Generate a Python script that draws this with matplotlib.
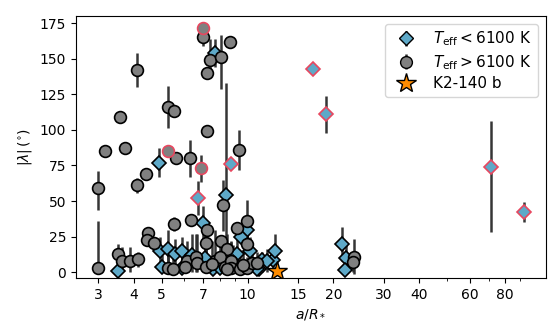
import matplotlib
matplotlib.use("Agg")
import matplotlib.pyplot as plt
import numpy as np
from matplotlib.ticker import FixedLocator, NullFormatter, FixedFormatter

# Hot hosts (T_eff > 6100 K): a/R*, |lambda|, lower err, upper err
hot_aR = [2.98, 2.98, 3.15, 3.58, 3.73, 4.08, 4.08, 4.39, 3.50, 3.64, 3.88, 4.14,
          4.46, 4.43, 4.68, 5.50, 5.24, 5.50, 5.27, 5.63, 6.26, 6.95, 6.95, 8.65,
          7.40, 8.04, 7.22, 7.22, 9.30, 6.85, 8.17, 6.35, 7.22, 9.92, 9.15, 7.17,
          8.04, 8.44, 9.92, 6.15, 6.57, 6.63, 7.17, 7.66, 7.98, 8.31, 8.78, 8.78,
          9.37, 9.92, 10.4, 10.8, 5.24, 5.46, 8.50, 23.6, 23.4, 6.05, 7.50, 9.60]
hot_lam = [59, 3, 85, 109, 87, 142, 61, 69, 13, 8, 8, 9,
           27.5, 22.5, 20.5, 34, 116, 113, 85, 80, 80, 171.5, 165, 162,
           149, 151, 140, 99, 86, 73.5, 47, 37, 30, 36, 31, 20.5,
           22, 16.5, 20, 8, 11, 6.5, 4, 8, 11, 4, 8, 3,
           2, 3, 6.5, 6.5, 3, 2, 2, 11, 7, 4, 6, 5]
hot_elo = [15, 3, 0, 0, 0, 12, 5, 0, 7, 8, 8, 5,
           0, 0, 0, 5, 15, 0, 0, 0, 13, 3, 6, 4,
           12, 22, 0, 0, 14, 10, 18, 0, 0, 14, 0, 14,
           0, 10, 8, 8, 11, 6.5, 4, 8, 11, 4, 8, 3,
           2, 3, 6.5, 6.5, 3, 2, 2, 12, 7, 4, 6, 5]
hot_ehi = [12, 33, 0, 0, 0, 12, 5, 0, 7, 10, 10, 5,
           0, 0, 0, 5, 15, 0, 0, 0, 13, 3, 6, 4,
           15, 16, 0, 0, 14, 9, 18, 0, 0, 15, 0, 14,
           0, 10, 8, 14, 16, 20, 18, 22, 14, 12, 14, 18,
           10, 8, 10, 8, 12, 10, 6, 12, 7, 12, 16, 10]
hot_misaligned = [False] * len(hot_aR)
for i in (18, 21, 29):
    hot_misaligned[i] = True

# Cool hosts (T_eff < 6100 K)
cool_aR = [3.50, 4.91, 7.66, 6.72, 8.78, 8.40, 6.95, 9.92, 9.50, 9.15,
           4.95, 5.24, 5.55, 5.91, 5.00, 5.91, 7.54, 7.98, 11.0, 11.2,
           10.8, 12.3, 12.5, 11.7, 21.5, 22.1, 21.9, 16.9, 18.9, 71.3, 92.9,
           7.10, 8.90, 6.40, 10.2]
cool_lam = [1, 77, 154, 52, 76, 54, 34.5, 30, 25, 13,
            15, 16, 13, 15, 4, 3, 2, 3, 2, 8.5,
            2, 8.5, 15, 8, 20, 10, 1.5, 142.5, 111, 74, 42,
            10, 7, 12, 15]
cool_elo = [1, 10, 10, 12, 0, 54, 12, 0, 0, 13,
            12, 14, 13, 15, 4, 3, 2, 3, 2, 8.5,
            2, 8.5, 7, 8, 12, 10, 1.5, 3, 13, 46, 7,
            10, 7, 12, 15]
cool_ehi = [8, 10, 10, 12, 0, 79, 12, 0, 0, 10,
            10, 14, 10, 10, 8, 10, 6, 8, 4, 6,
            4, 6, 12, 8, 12, 10, 4, 3, 13, 32, 7,
            20, 12, 15, 10]
cool_misaligned = [False] * len(cool_aR)
for i in (3, 4, 27, 28, 29, 30):
    cool_misaligned[i] = True

# K2-140 b
k2_aR = [12.7]
k2_lam = [0.5]

major_ticks = [3, 4, 5, 7, 10, 15, 20, 30, 40, 60, 80]
minor_ticks = [6, 8, 9, 50, 70, 90]

GREY = "#808080"
BLUE = "#5ea9c8"
RED = "#e8475f"
BAR = "#2b2b2b"

fig = plt.figure(figsize=(5.58, 3.34), dpi=100)
ax = fig.add_axes([0.136, 0.168, 0.842, 0.784])


def draw(xs, ys, lo, hi, flags, marker, face, ms):
    xs = np.asarray(xs); ys = np.asarray(ys)
    lo = np.asarray(lo); hi = np.asarray(hi)
    flags = np.asarray(flags)
    ax.errorbar(xs, ys, yerr=[lo, hi], fmt="none", ecolor=BAR, elinewidth=1.8,
                capsize=0, zorder=2, alpha=0.95)
    for sel, ec in ((~flags, "black"), (flags, RED)):
        ax.plot(xs[sel], ys[sel], ls="none", marker=marker, ms=ms,
                mfc=face, mec=ec, mew=1.2, zorder=3)


draw(cool_aR, cool_lam, cool_elo, cool_ehi, cool_misaligned, "D", BLUE, 7.5)
draw(hot_aR, hot_lam, hot_elo, hot_ehi, hot_misaligned, "o", GREY, 8.5)
ax.plot(k2_aR, k2_lam, ls="none", marker="*", ms=15, mfc="#ff8c00", mec="black",
        mew=1.0, zorder=5)

# legend proxies
h_cool = ax.errorbar([], [], yerr=[], fmt="D", ms=7.5, mfc=BLUE, mec="black",
                     ecolor=BAR, elinewidth=1.8)
h_hot = ax.errorbar([], [], yerr=[], fmt="o", ms=8.5, mfc=GREY, mec="black",
                    ecolor=BAR, elinewidth=1.8)
h_k2, = ax.plot([], [], ls="none", marker="*", ms=15, mfc="#ff8c00", mec="black")
ax.legend([h_cool, h_hot, h_k2],
          [r"$T_{\rm eff} < 6100$ K", r"$T_{\rm eff} > 6100$ K", "K2-140 b"],
          loc="upper right", fontsize=11, handletextpad=0.8, borderpad=0.4,
          labelspacing=0.3)

ax.set_xscale("log")
ax.set_xlim(2.5, 111)
ax.set_ylim(-4, 180)
ax.xaxis.set_major_locator(FixedLocator(major_ticks))
ax.xaxis.set_major_formatter(FixedFormatter([str(t) for t in major_ticks]))
ax.xaxis.set_minor_locator(FixedLocator(minor_ticks))
ax.xaxis.set_minor_formatter(NullFormatter())
ax.set_yticks([0, 25, 50, 75, 100, 125, 150, 175])
ax.tick_params(labelsize=10)
ax.set_xlabel(r"$a/R_*$", fontsize=10)
ax.set_ylabel(r"$|\lambda|\,(^{\circ})$", fontsize=10)

fig.savefig("out.png", dpi=100)
